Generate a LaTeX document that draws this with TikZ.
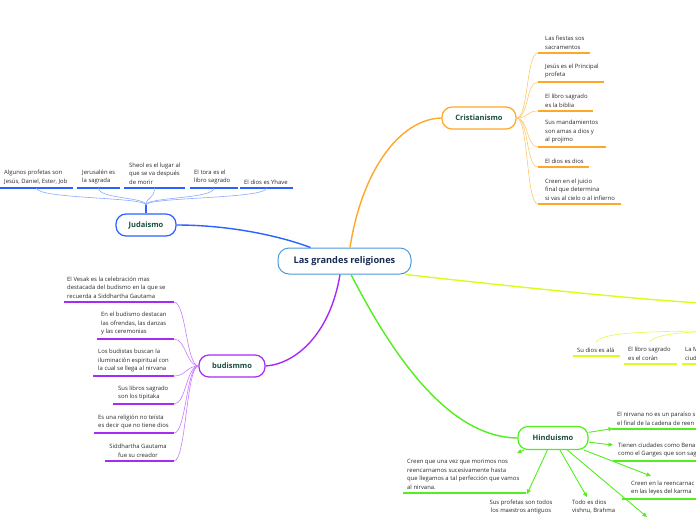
\documentclass[tikz,border=0pt]{standalone}
\usepackage{fontspec}
\setmainfont{Open Sans}
\usetikzlibrary{arrows.meta,calc}
\definecolor{cblue}{HTML}{4A9BDB}
\definecolor{navy}{HTML}{1B2A55}
\definecolor{dgreen}{HTML}{1D4D3F}
\definecolor{corange}{HTML}{FFA726}
\definecolor{lorange}{HTML}{FFC866}
\definecolor{jblue}{HTML}{2A62FF}
\definecolor{ljblue}{HTML}{8AAAFF}
\definecolor{bpurp}{HTML}{A62BF5}
\definecolor{lbpurp}{HTML}{C77BFF}
\definecolor{hgreen}{HTML}{52EE1E}
\definecolor{iyel}{HTML}{D6FF1A}
\definecolor{liyel}{HTML}{DCFF45}
\definecolor{ttext}{HTML}{2A2A2A}
\newcommand\smtxt{\fontsize{5.9}{8.5}\selectfont}
\newcommand\ttltxt{\fontsize{7.5}{9}\selectfont\bfseries}
% #1 name, #2 colour, #3 xL, #4 xR, #5 y, #6 text node options, #7 text
\newcommand\utopic[7]{%
  \coordinate (#1-L) at (#3,#5);
  \coordinate (#1-R) at (#4,#5);
  \coordinate (#1-M) at ({(#3+#4)/2},#5);
  \draw[uline,#2] (#1-L) -- (#1-R);
  \node[topictxt,#6] (#1) {#7};
}
\tikzset{
  mainnode/.style={draw=#1, line width=1.2pt, rounded corners=10pt, fill=white,
    text=dgreen, font=\ttltxt, inner sep=0pt},
  topictxt/.style={font=\smtxt, text=ttext, inner sep=0pt, align=left},
  uline/.style={line width=2pt},
  twig/.style={line width=0.6pt},
  branch/.style={line width=1.4pt},
  harrow/.style={hgreen, line width=0.9pt, -{Triangle[length=4.5pt,width=4pt]}},
}
\begin{document}
\begin{tikzpicture}[x=1pt,y=-1pt]
\path[use as bounding box] (0,0) rectangle (696,520);
\clip (0,0) rectangle (696,520);

% ---------- main nodes
\node[draw=cblue, line width=1pt, rounded corners=11pt, fill=white, text=navy,
  font=\fontsize{9.2}{11}\selectfont\bfseries, minimum width=133pt, minimum height=26pt,
  inner sep=0pt] (root) at (344.5,261) {Las grandes religiones};
\node[mainnode=corange, minimum width=74pt, minimum height=22pt] (cris) at (479,118) {Cristianismo};
\node[mainnode=jblue, minimum width=60pt, minimum height=22pt] (jud) at (146,225) {Judaismo};
\node[mainnode=bpurp, minimum width=66pt, minimum height=22pt] (bud) at (232,366) {budismmo};
\node[mainnode=hgreen, minimum width=70pt, minimum height=23pt] (hin) at (553,438) {Hinduismo};
\coordinate (islam) at (700,303);
\coordinate (islamkids) at (720,331);

% ---------- main branches
\draw[branch,corange] ($(root.north)+(5.5,0)$) .. controls (362,170) and (400,119) .. (cris.west);
\draw[branch,jblue] ($(root.north)+(-34,0)$) .. controls (280,236) and (230,225) .. (jud.east);
\draw[branch,bpurp] ($(root.south)+(-4.5,0)$) .. controls (330,335) and (295,364) .. (bud.east);
\draw[branch,hgreen] ($(root.south)+(6.5,0)$) .. controls (395,360) and (450,437) .. (hin.west);
\draw[branch,iyel] ($(root.south east)+(-6,0)$) .. controls (500,285) and (620,298) .. (islam);

% ---------- Cristianismo
\utopic{c1}{corange}{538}{590}{53}{anchor=south west, at={(545,49.5)}}{Las fiestas sos\\sacramentos}
\utopic{c2}{corange}{538}{604}{82}{anchor=south west, at={(545,78.5)}}{Jesús es el Principal\\profeta}
\utopic{c3}{corange}{538}{593}{111}{anchor=south west, at={(545,107.5)}}{El libro sagrado\\es la biblia}
\utopic{c4}{corange}{538}{606}{147}{anchor=south west, at={(545,143.5)}}{Sus  mandamientos\\son amas a dios y\\al projimo}
\utopic{c5}{corange}{538}{589}{167}{anchor=south west, at={(545,163.5)}}{El dios es dios}
\utopic{c6}{corange}{538}{621}{204}{anchor=south west, at={(545,200.5)}}{Creen en el juicio\\final que determina\\si vas al cielo o al infierno}
\foreach \n in {c1,c2,c3,c4,c5,c6}
  \draw[twig,lorange] (cris.east) .. controls +(12,0) and +(-12,0) .. (\n-L);

% ---------- Judaismo
\utopic{j1}{jblue}{0}{73}{188}{anchor=south west, at={(4,184.5)}}{Algunos profetas  son\\Jesús, Daniel, Ester, Job}
\utopic{j2}{jblue}{77}{120}{188}{anchor=south west, at={(82,184.5)}}{Jerusalén es\\la sagrada}
\utopic{j3}{jblue}{124}{185}{188}{anchor=south west, at={(129,184.5)}}{Sheol es el lugar al\\que se va después\\de morir}
\utopic{j4}{jblue}{190}{238}{188}{anchor=south west, at={(194,184.5)}}{El tora es el\\libro sagrado}
\utopic{j5}{jblue}{240}{293}{188}{anchor=south west, at={(244,184.5)}}{El dios es Yhave}
\coordinate (jstem) at (146,205);
\draw[jblue,line width=1.2pt] (jud.north) -- (jstem);
\foreach \n in {j1,j2,j3,j4,j5}
  \draw[twig,ljblue] (jstem) .. controls +(0,-8) and +(0,11) .. (\n-M);

% ---------- budismo
\utopic{b1}{bpurp}{64}{174}{302}{anchor=south west, at={(67,298.5)}}{El Vesak es la celebración mas\\destacada del budismo en la que se\\ recuerda a Siddhartha Gautama}
\utopic{b2}{bpurp}{97}{174}{339}{anchor=south west, at={(101,335.5)}}{En el budismo destacan\\las ofrendas, las danzas\\y las ceremonias}
\utopic{b3}{bpurp}{93}{174}{376}{anchor=south west, at={(98,372.5)}}{Los budistas buscan la\\iluminación espiritual con\\la cual se llega al nirvana}
\utopic{b4}{bpurp}{113}{174}{404}{anchor=south west, at={(118,400.5)}}{Sus libros sagrado\\son los tipitaka}
\utopic{b5}{bpurp}{94}{174}{433}{anchor=south west, at={(98,429.5)}}{Es una religión no teísta\\es decir que no tiene dios}
\utopic{b6}{bpurp}{105}{174}{461}{anchor=south, align=center, at={(138,457.5)}}{Siddhartha Gautama\\fue su creador}
\foreach \n in {b1,b2,b3,b4,b5,b6}
  \draw[twig,lbpurp] (bud.west) .. controls +(-12,0) and +(12,0) .. (\n-R);

% ---------- Hinduismo
\utopic{h1}{hgreen}{612}{700}{429}{anchor=south west, at={(617,425.5)}}{El nirvana no es  un paraíso s\\el final  de la cadena de reen}
\utopic{h2}{hgreen}{613}{700}{461}{anchor=south west, at={(618,457.5)}}{Tienen ciudades como Bena\\como el Ganges que son sag}
\utopic{h3}{hgreen}{622}{700}{499}{anchor=south west, at={(631,495.5)}}{Creen en la reencarnac\\en las leyes del karma}
\utopic{h7}{hgreen}{403}{526}{493}{anchor=south west, at={(407,489.5)}}{Creen que una vez que morimos nos\\reencarnamos sucesivamente hasta\\que llegamos a tal perfección que vamos\\al nirvana.}
\node[topictxt, anchor=north, align=center] (h5) at (521,499.5) {Sus profetas son todos\\los maestros antiguos};
\node[topictxt, anchor=north west] (h6) at (572,499.5) {Todo es dios\\vishnu, Brahma};
\coordinate (h1-tip) at (613,428.5);
\coordinate (h2-tip) at (613,445);
\coordinate (h3-tip) at (651,476);
\coordinate (h4-tip) at (647,517);
\coordinate (h5-tip) at (587,497);
\coordinate (h6-tip) at (527,494);
\coordinate (h7-tip) at (517,453);
\foreach \n in {h1,h2,h3,h4,h5,h6,h7}
  \draw[harrow] (hin) -- (\n-tip);

% ---------- Islam (partly outside)
\utopic{i1}{iyel}{573}{620}{356}{anchor=south west, at={(577,352.5)}}{Su dios es alá}
\utopic{i2}{iyel}{624}{677}{364}{anchor=south west, at={(628,360.5)}}{El libro sagrado\\es el corán}
\utopic{i3}{iyel}{682}{700}{364}{anchor=south west, at={(685,360.5)}}{La M\\ciud}
\draw[twig,liyel] (islamkids) .. controls (640,331) and (600,333) .. ($(i1.north)+(0,-5)$);
\draw[twig,liyel] (islamkids) .. controls (690,332) and (656,333) .. ($(i2.north)+(0,-5)$);
\end{tikzpicture}
\end{document}
